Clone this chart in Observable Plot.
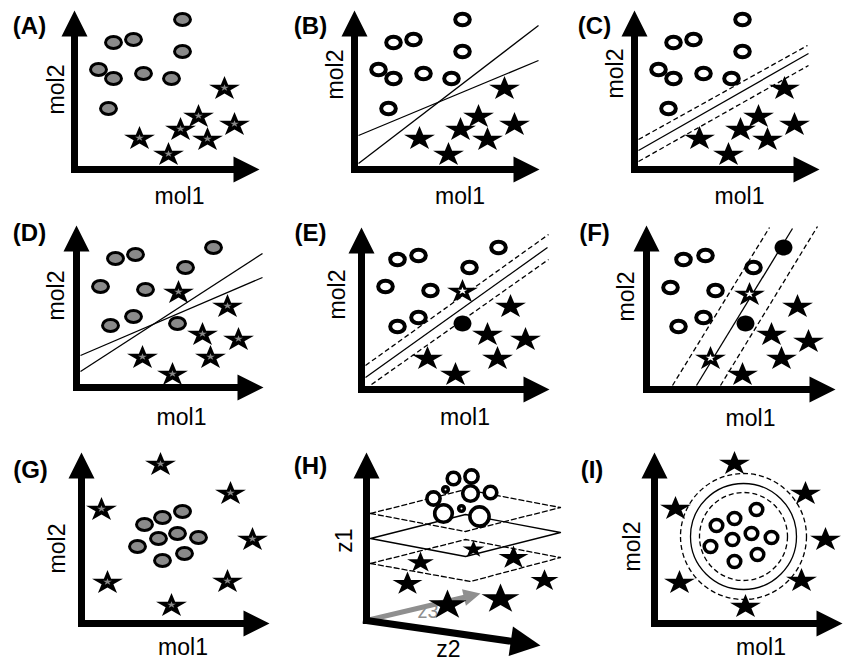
<!DOCTYPE html>
<html><head><meta charset="utf-8">
<script src="https://cdn.jsdelivr.net/npm/d3@7"></script>
<script src="https://cdn.jsdelivr.net/npm/@observablehq/plot@0.6"></script>
<style>
body{margin:0;background:#fff}
#fig{position:relative;width:845px;height:663px;overflow:hidden;background:#fff}
</style>
</head><body><div id="fig"></div>
<script>
// ---------------- DATA (local units: 1 unit ≈ 1 px from each panel's axis corner, y upward) -------------
const panelTags = {A:"(A)",B:"(B)",C:"(C)",D:"(D)",E:"(E)",F:"(F)",G:"(G)",H:"(H)",I:"(I)"};
const molX = "mol1", molY = "mol2";
const zNames = ["z1", "z2", "z3"];

// Panels A–C: same two classes
const abcCircles = [[108,150],[39,127],[59,130],[108,118],[24,100],[39,91],[69,96],[97,91],[34,61]];
const abcStars   = [[150,82],[124,54],[160,46],[106,41],[65,32],[133,31],[94,16]];
const bLines     = [[4,6,184,144],[4,34,184,109]];
const cSolid     = [[4,19,174,116]];
const cDashed    = [[4,30,173,124],[4,8,174,104]];

// Panel D
const dCircles = [[137,140],[39,129],[59,133],[109,120],[24,101],[69,98],[34,62],[57,71],[101,64]];
const dStars   = [[102,96],[151,82],[126,54],[162,49],[66,31],[134,31],[96,14]];
const dLines   = [[4,16,186,134],[4,32,186,110]];

// Panel E
const eCircles   = [[137,142],[36,130],[57,134],[108,122],[24,103],[69,99],[36,63],[57,72]];
const eFilled    = [[101,66]];
const eOpenStars = [[101,99]];
const eStars     = [[149,84],[126,56],[164,51],[66,32],[136,32],[94,16]];
const eSolid     = [[4,12,186,142]];
const eDashed    = [[4,24,187,155],[10,5,187,130]];

// Panel F
const fCircles   = [[37,130],[59,134],[24,102],[69,99],[32,63],[57,72],[107,122]];
const fFilled    = [[137,142],[99,66]];
const fOpenStars = [[103,96],[64,32]];
const fStars     = [[151,84],[125,56],[162,49],[135,32],[96,16]];
const fSolid     = [[50,4,146,161]];
const fDashed    = [[26,4,123,162],[74,4,171,163]];

// Panel G
const gCircles = [[63,99],[81,106],[101,112],[56,77],[77,85],[96,90],[117,86],[81,63],[103,70]];
const gStars   = [[79,160],[149,131],[20,115],[171,85],[26,42],[146,43],[90,19]];

// Panel H (z2 to the right, z1 up, z3 into the page); third value = size
const hPlaneSolid = [[4,82],[99,64],[194,88],[99,106]];
const hPlaneUpper = [[4,107],[99,89],[194,113],[99,131]];
const hPlaneLower = [[4,57],[104,39],[194,63],[99,81]];
const hCircles = [[87,142,6.3],[105,144,6.6],[79,131,2.8],[124,128,6.3],[67,122,6.6],[104,127,7.8],[95,112,2.8],[77,107,8.8],[113,104,9.6]];
const hStars   = [[107,72,9],[54,59,11],[147,64,12.3],[41,38,12.3],[178,41,11.5],[134,23,15.6],[81,17,15.6]];

// Panel I
const iCircles = [[62,98],[80,105],[102,114],[56,77],[78,84],[97,90],[117,86],[80,62],[103,69]];
const iStars   = [[80,161],[151,131],[21,116],[171,85],[25,42],[147,44],[91,18]];
const iRingCenter = [[89,87]];
const iRingSolid = 53, iRingDashed = [44, 63];

// Axis arrow tips per panel (x-axis end, y-axis end)
const axisTips = {A:[185,159],B:[185,159],C:[185,159],D:[187,162],E:[188,162],F:[189,164],G:[188,171],I:[188,171]};
const hAxisTips = {z1:[0,168], z2:[174,-25], z3:[114,27]};

// ---------------- LAYOUT ----------------
const layout = {
  A:{left:0,  top:0,  origin:[74,169],  tag:[-45,142.8], ylab:[-18,80],   xlab:[105,-27.1]},
  B:{left:280,top:0,  origin:[354,169], tag:[-44,142.8], ylab:[-18.4,95], xlab:[105.5,-27.1]},
  C:{left:560,top:0,  origin:[634,169], tag:[-40,142.8], ylab:[-18.4,96], xlab:[105,-27.1]},
  D:{left:0,  top:210,origin:[76,387],  tag:[-47,154.1], ylab:[-19.4,92], xlab:[105,-30.1]},
  E:{left:280,top:210,origin:[361,389], tag:[-51,156.3], ylab:[-23.4,95], xlab:[103.5,-28.1]},
  F:{left:560,top:210,origin:[646,389], tag:[-52,156.3], ylab:[-19.4,93], xlab:[104,-29.1]},
  G:{left:0,  top:430,origin:[81,623],  tag:[-51,152.8], ylab:[-23.4,75], xlab:[101.5,-24.1]},
  H:{left:280,top:430,origin:[366,620], tag:[-56,154.3], ylab:[-21.4,80], xlab:[82,-29.5], zlab:[61.5,9.4]},
  I:{left:560,top:430,origin:[654,623], tag:[-62.5,153.3],ylab:[-21.4,77], xlab:[106.5,-24.1]}
};
const FONT = "'Liberation Sans', Arial, Helvetica, sans-serif";
const GRAY = "#8a8a8a";

// ---------------- SYMBOLS ----------------
function ellipseSym(aspect) {
  return {draw(ctx, size) {
    const ry = Math.sqrt(size / Math.PI), rx = ry * aspect, k = 0.5522847498;
    ctx.moveTo(rx, 0);
    ctx.bezierCurveTo(rx, ry*k, rx*k, ry, 0, ry);
    ctx.bezierCurveTo(-rx*k, ry, -rx, ry*k, -rx, 0);
    ctx.bezierCurveTo(-rx, -ry*k, -rx*k, -ry, 0, -ry);
    ctx.bezierCurveTo(rx*k, -ry, rx, -ry*k, rx, 0);
    ctx.closePath();
  }};
}
function starSym(aspect) {
  return {draw(ctx, size) {
    const R = Math.sqrt(size / Math.PI), r = R * 0.382;
    for (let i = 0; i < 10; i++) {
      const a = Math.PI * i / 5, rr = i % 2 ? r : R;
      const x = Math.sin(a) * rr * aspect, y = -Math.cos(a) * rr + 0.1 * R;
      if (i) ctx.lineTo(x, y); else ctx.moveTo(x, y);
    }
    ctx.closePath();
  }};
}
const arrowHead = {draw(ctx, size) {
  const r = Math.sqrt(size / Math.PI);
  ctx.moveTo(0, 0); ctx.lineTo(r, 2*r); ctx.lineTo(-r, 2*r); ctx.closePath();
}};
const OVAL = ellipseSym(1.33), OPEN = ellipseSym(1.26), ROUND = ellipseSym(1.05), BLOB = ellipseSym(1.12), STAR = starSym(1.28);

const X = d => d[0], Y = d => d[1];
const S = {
  grayDot:  {symbol: OVAL, r: 6, fill: GRAY, stroke: "black", strokeWidth: 3},
  openDot:  {symbol: OPEN, r: 5.8, fill: "white", stroke: "black", strokeWidth: 4},
  roundDot: {symbol: ROUND, r: 6, fill: "white", stroke: "black", strokeWidth: 3.5},
  blobDot:  {symbol: BLOB, r: 8, fill: "black", stroke: "none"},
  star:     {symbol: STAR, r: 12.7, fill: "black", stroke: "none"},
  grayCore: {symbol: STAR, r: 3.6, fill: GRAY, stroke: "none"},
  whiteCore:{symbol: STAR, r: 4, fill: "white", stroke: "none"}
};
const dots = (data, style) => Plot.dot(data, {x: X, y: Y, ...style});
const segs = (data, dashed) => Plot.link(data, {x1: d => d[0], y1: d => d[1], x2: d => d[2], y2: d => d[3],
  stroke: "black", strokeWidth: 1.3, strokeDasharray: dashed ? "5,3" : null});

function arrow(tip, r, color, width) {
  const [tx, ty] = tip, len = Math.hypot(tx, ty), k = (len - 1.2 * r) / len;
  const ang = Math.atan2(-ty, tx) * 180 / Math.PI + 90;
  return [
    Plot.link([tip], {x1: () => 0, y1: () => 0, x2: d => d[0]*k, y2: d => d[1]*k,
      stroke: color, strokeWidth: width, strokeLinecap: "square"}),
    Plot.dot([tip], {x: X, y: Y, r, symbol: arrowHead, fill: color, stroke: "none", rotate: ang})
  ];
}
function txt(pos, t, opts) {
  return Plot.text([pos], {x: X, y: Y, text: () => t, fill: "black", fontFamily: FONT, ...opts});
}
function frame(key, xName, yName) {
  const L = layout[key];
  const marks = [];
  if (axisTips[key]) {
    const [xt, yt] = axisTips[key];
    marks.push(...arrow([0, yt], 13, "black", 7), ...arrow([xt, 0], 13, "black", 7));
  }
  marks.push(txt(L.tag, panelTags[key], {fontSize: 24, fontWeight: "bold"}));
  marks.push(txt(L.ylab, yName, {fontSize: 23, rotate: -90}));
  marks.push(txt(L.xlab, xName, {fontSize: 23}));
  return marks;
}
function starsWithCore(data, core) { return [dots(data, S.star), dots(data, core)]; }

const fig = document.getElementById("fig");
function render(key, marks) {
  const L = layout[key], w = 300, h = 240;
  const ox = L.origin[0] - L.left, oy = L.origin[1] - L.top;
  const svg = Plot.plot({
    width: w, height: h, margin: 0,
    x: {type: "linear", domain: [-ox, w - ox], range: [0, w], axis: null},
    y: {type: "linear", domain: [oy, oy - h], range: [0, h], axis: null},
    style: {background: "transparent", overflow: "visible", fontFamily: FONT, position: "absolute",
            left: L.left + "px", top: L.top + "px", maxWidth: "none"},
    marks
  });
  fig.appendChild(svg);
}

// ---------------- PANELS ----------------
render("A", [...frame("A", molX, molY), dots(abcCircles, S.grayDot), ...starsWithCore(abcStars, S.grayCore)]);
render("B", [...frame("B", molX, molY), segs(bLines), dots(abcCircles, S.openDot), dots(abcStars, S.star)]);
render("C", [...frame("C", molX, molY), segs(cSolid), segs(cDashed, true), dots(abcCircles, S.openDot), dots(abcStars, S.star)]);
render("D", [...frame("D", molX, molY), segs(dLines), dots(dCircles, S.grayDot), ...starsWithCore(dStars, S.grayCore)]);
render("E", [...frame("E", molX, molY), segs(eSolid), segs(eDashed, true), dots(eCircles, S.openDot), dots(eFilled, S.blobDot),
             dots(eStars, S.star), ...starsWithCore(eOpenStars, S.whiteCore)]);
render("F", [...frame("F", molX, molY), segs(fSolid), segs(fDashed, true), dots(fCircles, S.openDot), dots(fFilled, S.blobDot),
             dots(fStars, S.star), ...starsWithCore(fOpenStars, S.whiteCore)]);
render("G", [...frame("G", molX, molY), dots(gCircles, S.grayDot), ...starsWithCore(gStars, S.grayCore)]);

const closed = pts => [...pts, pts[0]];
render("H", [
  ...arrow(hAxisTips.z3, 8.5, "#8f8f8f", 5),
  ...arrow(hAxisTips.z1, 13, "black", 7),
  ...arrow(hAxisTips.z2, 15, "black", 7),
  ...frame("H", zNames[1], zNames[0]),
  txt(layout.H.zlab, zNames[2], {fontSize: 20, fill: "#8f8f8f"}),
  Plot.line(closed(hPlaneUpper), {x: X, y: Y, stroke: "black", strokeWidth: 1.3, strokeDasharray: "5,3"}),
  Plot.line(closed(hPlaneSolid), {x: X, y: Y, stroke: "black", strokeWidth: 1.3}),
  Plot.line(closed(hPlaneLower), {x: X, y: Y, stroke: "black", strokeWidth: 1.3, strokeDasharray: "5,3"}),
  ...hStars.map(s => Plot.dot([s], {x: X, y: Y, r: s[2], symbol: STAR, fill: "black", stroke: "none"})),
  ...hCircles.map(c => Plot.dot([c], {x: X, y: Y, r: c[2], fill: "white", stroke: "black", strokeWidth: 3.6}))
]);
render("I", [
  ...frame("I", molX, molY),
  Plot.dot(iRingCenter, {x: X, y: Y, r: iRingSolid, fill: "none", stroke: "black", strokeWidth: 1.3}),
  ...iRingDashed.map(rr => Plot.dot(iRingCenter, {x: X, y: Y, r: rr, fill: "none", stroke: "black", strokeWidth: 1.3, strokeDasharray: "5,3"})),
  dots(iCircles, S.roundDot),
  dots(iStars, S.star)
]);
</script></body></html>
